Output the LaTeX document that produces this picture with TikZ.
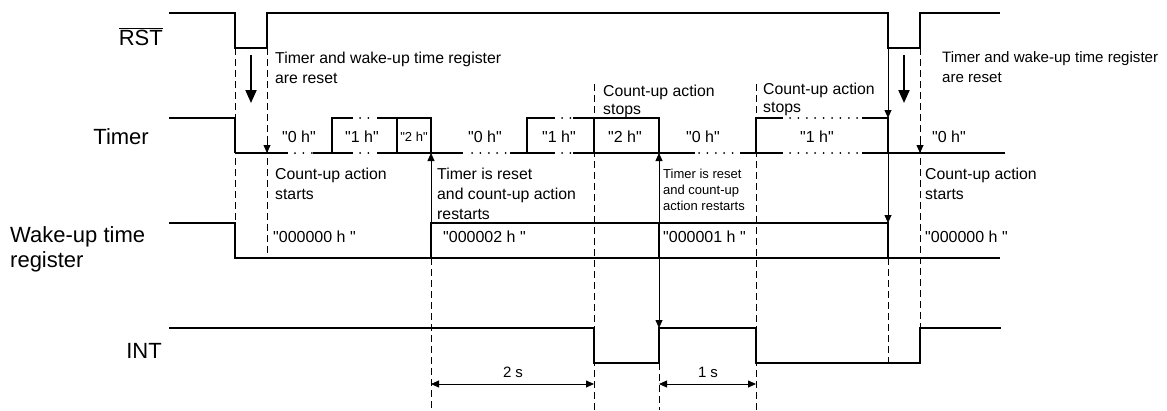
\documentclass[tikz,border=0pt]{standalone}
\usepackage{fontspec}
\setmainfont{Liberation Sans}[Ligatures=TeXOff]
\usetikzlibrary{arrows.meta}
\begin{document}
\begin{tikzpicture}[x=1pt,y=-1pt,
  sig/.style={line width=1.8pt, line join=miter},
  dotseg/.style={line width=2pt, line cap=round, dash pattern=on 0pt off 8.4pt},
  guide/.style={line width=0.8pt, dash pattern=on 7pt off 4pt},
  thinline/.style={line width=0.8pt},
  smalltip/.style={-{Triangle[length=8pt,width=7pt]}},
  bigarrow/.style={line width=2pt, -{Triangle[length=13pt,width=11pt]}},
  dimarrow/.style={line width=0.8pt, {Triangle[length=8pt,width=7pt]}-{Triangle[length=8pt,width=7pt]}},
  lbl/.style={font=\fontsize{22}{25}\selectfont, inner sep=0pt},
  ann/.style={font=\fontsize{15.8}{20}\selectfont, align=left, inner sep=0pt, anchor=base west},
  ann2/.style={font=\fontsize{15.8}{18.5}\selectfont, align=left, inner sep=0pt, anchor=base west},
  sann/.style={font=\fontsize{13}{16}\selectfont, align=left, inner sep=0pt, anchor=base west},
  hex/.style={font=\fontsize{16}{18}\selectfont, inner sep=0pt},
  shex/.style={font=\fontsize{13}{15}\selectfont, inner sep=0pt},
  reg/.style={font=\fontsize{16}{18}\selectfont, inner sep=0pt, anchor=west},
  dimlbl/.style={font=\fontsize{15}{17}\selectfont, inner sep=0pt},
]
\useasboundingbox (0,0) rectangle (1167,410);

% ---------- guide (dashed) lines ----------
\draw[guide] (235,48) -- (235,258);
\draw[guide] (267,48) -- (267,258);
\draw[guide] (431,258) -- (431,410);
\draw[guide] (594,84) -- (594,410);
\draw[guide] (659,363) -- (659,410);
\draw[guide] (756,84) -- (756,410);
\draw[guide] (888,258) -- (888,363);
\draw[guide] (920,48) -- (920,328);

% ---------- RST ----------
\draw[sig] (169,13) -- (235,13) -- (235,48) -- (267,48) -- (267,13) -- (888,13) -- (888,48) -- (920,48) -- (920,13) -- (1000,13);
\node[lbl, anchor=base east] (rstl) at (163,45) {$\overline{\hbox{RST}}$};

% ---------- Timer ----------
\draw[sig] (169,118) -- (235,118) -- (235,153);
% bottom line
\draw[sig] (235,153) -- (288,153);
\draw[dotseg] (295,153) -- (312.5,153);
\draw[sig] (313,153) -- (353,153);
\draw[dotseg] (360,153) -- (368.5,153);
\draw[sig] (377,153) -- (463,153);
\draw[dotseg] (472,153) -- (505.6,153);
\draw[sig] (510,153) -- (555,153);
\draw[dotseg] (562,153) -- (570.5,153);
\draw[sig] (573,153) -- (695,153);
\draw[dotseg] (699,153) -- (735,153);
\draw[sig] (740,153) -- (783,153);
\draw[dotseg] (790,153) -- (858,153);
\draw[sig] (862,153) -- (1005,153);
% top line
\draw[sig] (332,153) -- (332,118) -- (353,118);
\draw[dotseg] (360,118) -- (368.5,118);
\draw[sig] (377,118) -- (431,118) -- (431,153);
\draw[sig] (397,118) -- (397,153);
\draw[sig] (527,153) -- (527,118) -- (555,118);
\draw[dotseg] (562,118) -- (570.5,118);
\draw[sig] (573,118) -- (659,118) -- (659,153);
\draw[sig] (594,118) -- (594,153);
\draw[sig] (756,153) -- (756,118) -- (783,118);
\draw[dotseg] (790,118) -- (858,118);
\draw[sig] (862,118) -- (888,118) -- (888,153);
\node[lbl, anchor=base east] (timerl) at (149,144) {Timer};

\node[hex] (h0a) at (299,137) {"0 h"};
\node[hex] (h1a) at (362,137) {"1 h"};
\node[shex] (h2a) at (414,137) {"2 h"};
\node[hex] (h0b) at (485,137) {"0 h"};
\node[hex] (h1b) at (559,137) {"1 h"};
\node[hex] (h2b) at (625,137) {"2 h"};
\node[hex] (h0c) at (703,137) {"0 h"};
\node[hex] (h1c) at (817,137) {"1 h"};
\node[hex] (h0d) at (949,137) {"0 h"};

% ---------- Wake-up time register ----------
\draw[sig] (169,223) -- (235,223) -- (235,258) -- (1000,258);
\draw[sig] (431,258) -- (431,223) -- (888,223) -- (888,258);
\draw[sig] (659,223) -- (659,258);
\node[lbl, anchor=base west, align=left, font=\fontsize{22}{25}\selectfont] (regl) at (10,267) {Wake-up time\\register};

\node[reg] (r0a) at (273,237) {"000000 h "};
\node[reg] (r2) at (443,237) {"000002 h "};
\node[reg] (r1) at (663,237) {"000001 h "};
\node[reg] (r0b) at (925,237) {"000000 h "};

% ---------- INT ----------
\draw[sig] (169,328) -- (594,328) -- (594,363) -- (659,363) -- (659,328) -- (756,328) -- (756,363) -- (920,363) -- (920,328) -- (1001,328);
\node[lbl, anchor=base east] (intl) at (162,358) {INT};

% ---------- arrows ----------
\coordinate (ba1s) at (251,55);  \coordinate (ba1e) at (251,103);
\coordinate (ba2s) at (904,55);  \coordinate (ba2e) at (904,103);
\draw[bigarrow] (ba1s) -- (ba1e);
\draw[bigarrow] (ba2s) -- (ba2e);

\coordinate (sa1s) at (267,141); \coordinate (sa1e) at (267,153);
\coordinate (sa2s) at (920,141); \coordinate (sa2e) at (920,153);
\draw[thinline, smalltip] (sa1s) -- (sa1e);
\draw[thinline, smalltip] (sa2s) -- (sa2e);

\coordinate (ra1s) at (431,223); \coordinate (ra1e) at (431,153);
\draw[thinline, smalltip] (ra1s) -- (ra1e);

\coordinate (ra2a) at (659,153); \coordinate (ra2b) at (659,328);
\draw[thinline, {Triangle[length=8pt,width=7pt]}-{Triangle[length=8pt,width=7pt]}] (ra2a) -- (ra2b);

\coordinate (sta) at (888,48); \coordinate (stb) at (888,118); \coordinate (stc) at (888,223);
\draw[thinline, smalltip] (sta) -- (stb);
\draw[thinline, smalltip] (stb) -- (stc);

% ---------- annotations ----------
\node[ann] (a1) at (275,83) {Timer and wake-up time register\\are reset};
\node[ann, font=\fontsize{15.1}{20}\selectfont] (a2) at (942,82) {Timer and wake-up time register\\are reset};
\node[ann] (a3) at (275,199) {Count-up action\\starts};
\node[ann] (a4) at (925,199) {Count-up action\\starts};
\node[ann] (a5) at (437,219) {Timer is reset\\and count-up action\\restarts};
\node[sann] (a6) at (663,210) {Timer is reset\\and count-up\\action restarts};
\node[ann2] (a7) at (603,114.5) {Count-up action\\stops};
\node[ann2] (a8) at (763,112.5) {Count-up action\\stops};

% ---------- dimensions ----------
\coordinate (d1a) at (431,384); \coordinate (d1b) at (594,384);
\coordinate (d2a) at (659,384); \coordinate (d2b) at (756,384);
\draw[dimarrow] (d1a) -- (d1b);
\draw[dimarrow] (d2a) -- (d2b);
\node[dimlbl] (s2) at (513,372) {2 s};
\node[dimlbl] (s1) at (708,372) {1 s};
\end{tikzpicture}
\end{document}
